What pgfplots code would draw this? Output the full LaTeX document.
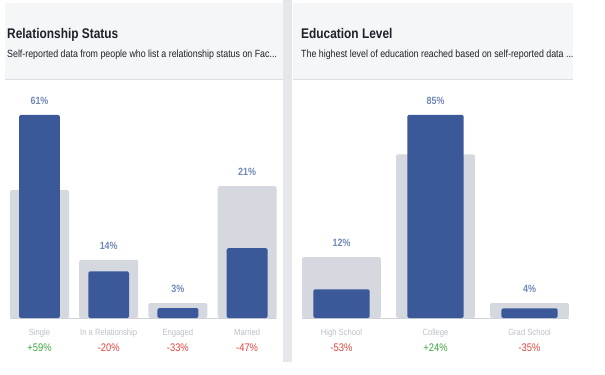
\documentclass[border=0pt]{standalone}
\usepackage{fontspec}
\setmainfont{Liberation Sans}[FakeStretch=0.85]
\usepackage{pgfplots}
\pgfplotsset{compat=1.18}
\definecolor{fbblue}{HTML}{3B5998}
\definecolor{bench}{HTML}{D5D8DE}
\definecolor{hdrbg}{HTML}{F5F6F7}
\definecolor{sepc}{HTML}{E5E7EB}
\definecolor{hdrline}{HTML}{DCDFE3}
\definecolor{vallbl}{HTML}{7187B7}
\definecolor{catlbl}{HTML}{BCC0C7}
\definecolor{upgreen}{HTML}{3EA53E}
\definecolor{downred}{HTML}{E0463E}
\definecolor{baseln}{HTML}{CFD3D9}
\definecolor{titlec}{HTML}{1D2129}
\pgfplotsset{
  fbpanel/.style={
    scale only axis, anchor=south west, clip=false,
    height=233bp, ymin=0,
    axis line style={draw=none}, ytick=\empty, major tick length=0pt,
    xticklabel style={font=\fontsize{11bp}{16bp}\selectfont, align=center, anchor=north, yshift=-7bp},
  },
  bgbar/.style={ybar, bar shift=0pt, fill=bench, draw=none, rounded corners=1.5bp},
  fgbar/.style={ybar, bar shift=0pt, fill=fbblue, draw=none, rounded corners=1.5bp},
  vlabels/.style={draw=none, mark=none, point meta=explicit symbolic,
    nodes near coords={\pgfplotspointmeta\%},
    every node near coord/.style={anchor=center, yshift=14bp, text=vallbl,
      font=\fontsize{10.5bp}{12bp}\selectfont\bfseries}},
}
\newcommand{\cat}[1]{{\fontsize{9bp}{16bp}\selectfont\textcolor{catlbl}{#1}}}
\begin{document}
\begin{tikzpicture}[x=1bp,y=1bp]
\useasboundingbox (0,0) rectangle (605,374);
\fill[white] (0,0) rectangle (605,374);
% headers
\fill[hdrbg] (5,295) rectangle (283,371);
\fill[hdrbg] (293,295) rectangle (573,371);
\draw[hdrline, line width=1bp] (5,295) -- (283,295);
\draw[hdrline, line width=1bp] (293,295) -- (573,295);
\fill[sepc] (283,12) rectangle (292,374);
\node[anchor=base west, inner sep=0pt, text=titlec, font=\fontsize{14bp}{16bp}\selectfont\bfseries] at (7,336) {Relationship Status};
\node[anchor=base west, inner sep=0pt, text=titlec, font=\fontsize{10.4bp}{12bp}\selectfont] at (7,317) {Self-reported data from people who list a relationship status on Fac...};
\node[anchor=base west, inner sep=0pt, text=titlec, font=\fontsize{14bp}{16bp}\selectfont\bfseries] at (301,336) {Education Level};
\node[anchor=base west, inner sep=0pt, text=titlec, font=\fontsize{10.4bp}{12bp}\selectfont] at (301,317) {The highest level of education reached based on self-reported data ...};

\begin{axis}[fbpanel, at={(4.9bp,56bp)}, width=276.8bp, ymax=70,
  xmin=-0.5, xmax=3.5, xtick={0,1,2,3},
  xticklabels={{\cat{Single}\\\textcolor{upgreen}{+59\%}},
               {\cat{In a Relationship}\\\textcolor{downred}{-20\%}},
               {\cat{Engaged}\\\textcolor{downred}{-33\%}},
               {\cat{Married}\\\textcolor{downred}{-47\%}}}]
\draw[baseln, line width=0.8bp] (axis cs:-0.43,0) -- (axis cs:3.43,0);
\addplot[bgbar, bar width=0.853] coordinates {(0,38.4) (1,17.5) (2,4.5) (3,39.6)};
\addplot[fgbar, bar width=0.59] coordinates {(0,61) (1,14) (2,3) (3,21)};
\addplot[vlabels] coordinates {(0,61) [61] (1,17.5) [14] (2,4.5) [3] (3,39.6) [21]};
\end{axis}

\begin{axis}[fbpanel, at={(294.5bp,56bp)}, width=282bp, ymax=97.5,
  xmin=-0.5, xmax=2.5, xtick={0,1,2},
  xticklabels={{\cat{High School}\\\textcolor{downred}{-53\%}},
               {\cat{College}\\\textcolor{upgreen}{+24\%}},
               {\cat{Grad School}\\\textcolor{downred}{-35\%}}}]
\draw[baseln, line width=0.8bp] (axis cs:-0.42,0) -- (axis cs:2.42,0);
\addplot[bgbar, bar width=0.84] coordinates {(0,25.5) (1,68.5) (2,6.2)};
\addplot[fgbar, bar width=0.6] coordinates {(0,12) (1,85) (2,4)};
\addplot[vlabels] coordinates {(0,25.5) [12] (1,85) [85] (2,6.2) [4]};
\end{axis}
\end{tikzpicture}
\end{document}
